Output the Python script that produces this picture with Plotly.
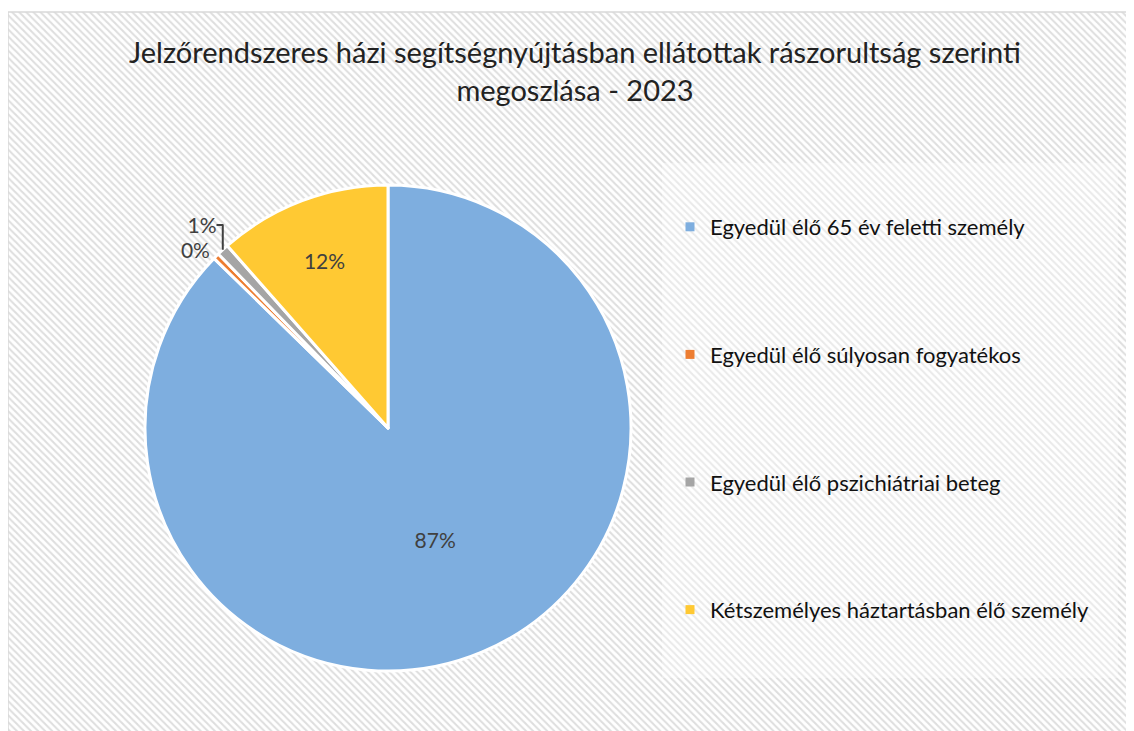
import plotly.graph_objects as go

# ---- data ----
labels = [
    "Egyedül élő 65 év feletti személy",
    "Egyedül élő súlyosan fogyatékos",
    "Egyedül élő pszichiátriai beteg",
    "Kétszemélyes háztartásban élő személy",
]
values = [87.3, 0.4, 0.8, 11.5]
colors = ["#7EAEDF", "#ED7D31", "#A5A5A5", "#FFC933"]
text_positions = ["inside", "outside", "outside", "inside"]
title_text = ("Jelzőrendszeres házi segítségnyújtásban ellátottak rászorultság szerinti"
              "<br>megoszlása - 2023")

W, H = 1134, 731
OFF = 8  # page offset of the plot div (browser body margin)
FONT = "Lato, 'Open Sans', sans-serif"

fig = go.Figure()

# hatched chart-area background (decoration)
fig.add_trace(go.Scatter(
    x=[8 - OFF, W + 5, W + 5, 8 - OFF, 8 - OFF],
    y=[12 - OFF, 12 - OFF, H + 5, H + 5, 12 - OFF],
    mode="lines", fill="toself",
    fillcolor="white",
    fillpattern=dict(shape="\\", size=5, solidity=0.4,
                     fgcolor="#DEDEDE", bgcolor="white", fillmode="replace"),
    line=dict(color="#D9D9D9", width=1.5),
    hoverinfo="skip", showlegend=False,
))

# pie
cx, cy, R = 388 - OFF, 428 - OFF, 243
fig.add_trace(go.Pie(
    labels=labels, values=values,
    marker=dict(colors=colors, line=dict(color="white", width=3)),
    sort=False, direction="clockwise", rotation=0,
    texttemplate="%{percent:.0%}",
    textposition=text_positions,
    insidetextorientation="horizontal",
    textfont=dict(family=FONT, size=21, color="#404040"),
    outsidetextfont=dict(family=FONT, size=21, color="#404040"),
    domain=dict(x=[(cx - R) / W, (cx + R) / W],
                y=[(H - cy - R) / H, (H - cy + R) / H]),
    showlegend=False,
    hoverinfo="label+percent",
))

# legend entries
for i, (lab, col) in enumerate(zip(labels, colors)):
    fig.add_trace(go.Scatter(
        x=[None], y=[None], mode="markers", name=lab,
        legendgroup=f"g{i}",
        marker=dict(symbol="square", size=9, color=col),
    ))

fig.update_layout(
    width=W, height=H,
    margin=dict(l=0, r=0, t=0, b=0),
    paper_bgcolor="white", plot_bgcolor="rgba(0,0,0,0)",
    xaxis=dict(range=[0, W], visible=False, fixedrange=True),
    yaxis=dict(range=[H, 0], visible=False, fixedrange=True),
    title=dict(text=title_text, x=(575 - OFF) / W, xanchor="center",
               y=1 - 55 / H, yanchor="top",
               font=dict(family=FONT, size=29, color="#222222")),
    legend=dict(
        x=662 / W, xanchor="left", y=1 - 198 / H, yanchor="top",
        bgcolor="rgba(0,0,0,0)", borderwidth=0,
        font=dict(family=FONT, size=22, color="#111111"),
        tracegroupgap=96, traceorder="grouped",
    ),
    shapes=[dict(type="rect", xref="paper", yref="paper",
                 x0=(662 - OFF) / W, x1=(1118 - OFF) / W,
                 y0=1 - (678 - OFF) / H, y1=1 - (163 - OFF) / H,
                 fillcolor="rgba(255,255,255,0.35)", line=dict(width=0),
                 layer="above")],
)

fig.write_html("out.html")
